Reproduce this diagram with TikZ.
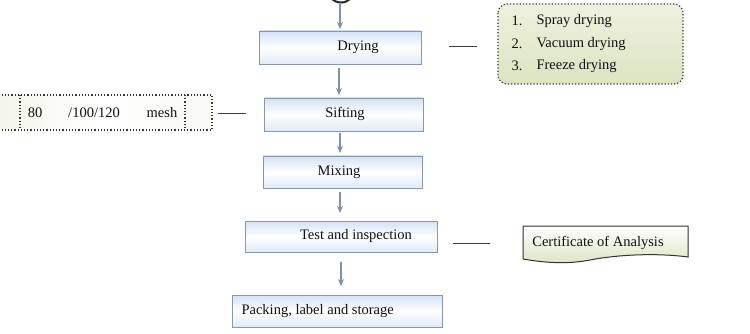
\documentclass[tikz,border=0pt]{standalone}
\usepackage{fontspec}
\setmainfont{Liberation Serif}
\usetikzlibrary{arrows.meta}
\definecolor{boxline}{HTML}{8797AD}
\definecolor{boxblue}{HTML}{D3E2F4}
\definecolor{arrowc}{HTML}{7F91AA}
\definecolor{greenA}{HTML}{EEF1DF}
\definecolor{greenB}{HTML}{DCE4C2}
\definecolor{textc}{HTML}{111111}
\tikzset{
  x=1pt, y=-1pt,
  every node/.style={font=\fontsize{14.5}{16}\selectfont, text=textc},
  stepbox/.style={draw=boxline, line width=0.9pt, rectangle, top color=boxblue, bottom color=boxblue!70, middle color=white, inner sep=0pt},
  flow/.style={draw=arrowc, line width=1.1pt, -{Stealth[length=7pt,width=6pt]}},
  tie/.style={draw=black!75, line width=0.9pt},
  dotbox/.style={draw=black!80, dotted, line width=1.2pt}
}
\begin{document}
\begin{tikzpicture}
\useasboundingbox (0,0) rectangle (750,334);
\fill[white] (0,0) rectangle (750,334);
% top partial circle
\begin{scope}
\clip (0,0) rectangle (750,334);
\draw[black!85, line width=2pt] (341,-11.5) ellipse (14 and 14);
\end{scope}
\coordinate (top) at (340,4);
% boxes
\node[stepbox, minimum width=162pt, minimum height=33pt] (dry) at (340,47.5) {};
\node (drytxt) at (358,47) {Drying};
\node[stepbox, minimum width=159pt, minimum height=33pt] (sift) at (343.5,114.5) {};
\node (sifttxt) at (345,114) {Sifting};
\node[stepbox, minimum width=159pt, minimum height=32pt] (mix) at (342.5,172) {};
\node (mixtxt) at (339,172) {Mixing};
\node[stepbox, minimum width=192pt, minimum height=31pt] (test) at (341,236.5) {};
\node (testtxt) at (356,236) {Test and inspection};
\node[stepbox, minimum width=210pt, minimum height=32pt] (pack) at (337,311) {};
\node[anchor=west] (packtxt) at (238,311) {Packing, label and storage};
% arrows
\draw[flow] (top) -- (340,29);
\draw[flow] (339,68) -- (339,95);
\draw[flow] (340,133) -- (340,153);
\draw[flow] (340,192) -- (340,213);
\draw[flow] (341,262) -- (341,286);
% drying options
\shade[top color=greenA, bottom color=greenB, rounded corners=9pt] (498,4) rectangle (683,84);
\draw[dotbox, rounded corners=9pt] (498,4) rectangle (683,84);
\node[anchor=west] (n1) at (508,21) {1.};
\node[anchor=west] (n2) at (508,44) {2.};
\node[anchor=west] (n3) at (508,66) {3.};
\node[anchor=west] (o1) at (533,21) {Spray drying};
\node[anchor=west] (o2) at (533,44) {Vacuum drying};
\node[anchor=west] (o3) at (533,66) {Freeze drying};
\coordinate (d1) at (449,46);
\coordinate (d2) at (477,46);
\draw[tie] (d1) -- (d2);
% mesh box
\shade[left color=greenA!70, right color=greenA!40, middle color=white] (-5,95) rectangle (212,130);
\draw[dotbox] (-5,95) rectangle (212,130);
\draw[dotbox] (20,95) -- (20,130);
\draw[dotbox] (185,95) -- (185,130);
\node (m1) at (35,113) {80};
\node (m2) at (94,113) {/100/120};
\node (m3) at (162,113) {mesh};
\coordinate (s1) at (218,113);
\coordinate (s2) at (246,113);
\draw[tie] (s1) -- (s2);
% certificate
\shade[top color=white, bottom color=greenB] (523,226) -- (688,226) -- (688,257)
  .. controls (650,252) and (610,256) .. (590,260)
  .. controls (565,265) and (540,262) .. (523,259) -- cycle;
\draw[black!80, line width=1pt] (523,226) -- (688,226) -- (688,257)
  .. controls (650,252) and (610,256) .. (590,260)
  .. controls (565,265) and (540,262) .. (523,259) -- cycle;
\node (cert) at (598,243) {Certificate of Analysis};
\coordinate (t1) at (453,243);
\coordinate (t2) at (490,243);
\draw[tie] (t1) -- (t2);
\end{tikzpicture}
\end{document}
